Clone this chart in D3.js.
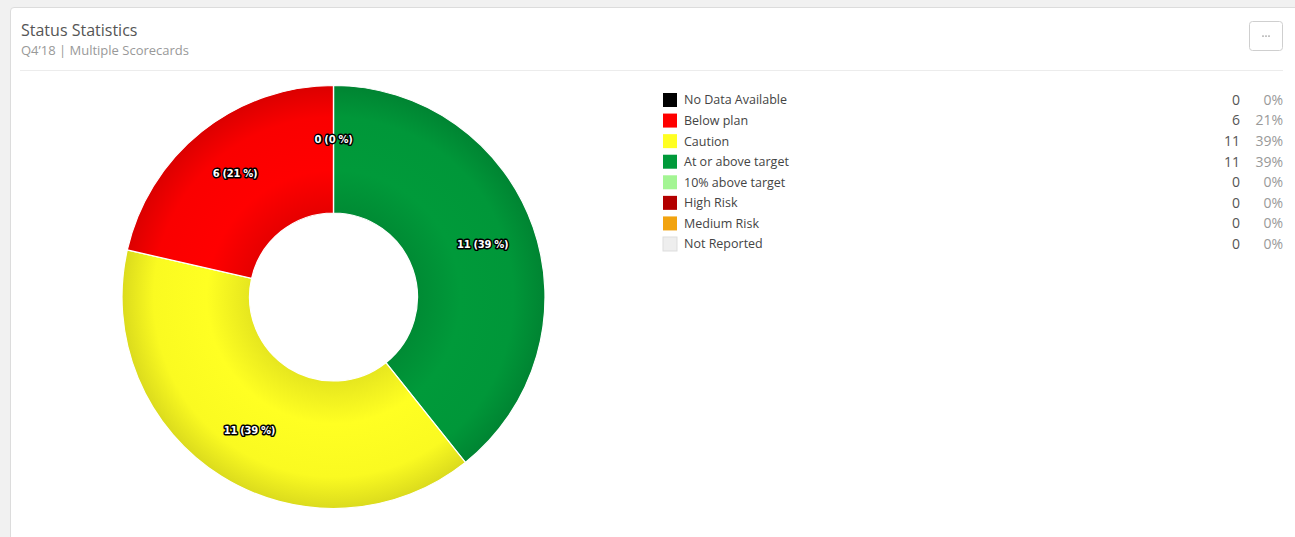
<!DOCTYPE html>
<html>
<head>
<meta charset="utf-8">
<script src="https://cdn.jsdelivr.net/npm/d3@7.9.0/dist/d3.min.js"></script>
<style>
  html, body { margin: 0; padding: 0; background: #f1f1f1; }
  body { width: 1295px; height: 537px; overflow: hidden; position: relative; font-family: 'Open Sans', sans-serif; }
  .panel {
    position: absolute; left: 10px; top: 7px; width: 1300px; height: 560px;
    background: #fff; border: 1px solid #dcdcdc; border-radius: 4px;
  }
  svg { position: absolute; left: 0; top: 0; }
</style>
</head>
<body>
<div class="panel"></div>
<svg id="chart" width="1295" height="537"></svg>
<script>
const statuses = ['No Data Available', 'Below plan', 'Caution', 'At or above target',
                  '10% above target', 'High Risk', 'Medium Risk', 'Not Reported'];
const counts   = [0, 6, 11, 11, 0, 0, 0, 0];
const percents = ['0%', '21%', '39%', '39%', '0%', '0%', '0%', '0%'];
const colors   = ['#000000', '#ff0000', '#ffff22', '#009a3a', '#a3f593', '#b30000', '#f2a30f', '#eeeeee'];
// order in which the slices run clockwise from 12 o'clock
const pieOrder = ['At or above target', 'Caution', 'Below plan', 'No Data Available'];

const svg = d3.select('#chart');

// header
svg.append('text').attr('x', 21).attr('y', 36)
  .style('font-size', '16px').style('fill', '#555').text('Status Statistics');
svg.append('text').attr('x', 21).attr('y', 55)
  .style('font-size', '13px').style('fill', '#999').text('Q4\u201918 | Multiple Scorecards');
svg.append('line').attr('x1', 20).attr('x2', 1283).attr('y1', 70.5).attr('y2', 70.5)
  .attr('stroke', '#ececec');

const btn = svg.append('g').attr('transform', 'translate(1249,21)');
btn.append('rect').attr('x', 0.5).attr('y', 0.5).attr('width', 33).attr('height', 29)
  .attr('rx', 3).attr('fill', '#fff').attr('stroke', '#cfcfcf');
btn.selectAll('rect.dot').data([-3, 0, 3]).join('rect').attr('class', 'dot')
  .attr('x', d => 16 + d).attr('y', 14.5).attr('width', 2).attr('height', 1.2).attr('fill', '#aaa');

// donut
const cx = 333.5, cy = 297, outerR = 211.5, innerR = 84;
const colorOf = d3.scaleOrdinal().domain(statuses).range(colors);
const countOf = new Map(statuses.map((s, i) => [s, counts[i]]));
const pctOf = new Map(statuses.map((s, i) => [s, percents[i]]));
const total = d3.sum(counts);

// gradients live in the donut group's own space, so centre them at 0,0
const defs = svg.append('defs');
statuses.forEach((s, i) => {
  const shade = t => d3.interpolateRgb(colors[i], '#000')(t);
  const g = defs.append('radialGradient').attr('id', 'g' + i)
    .attr('gradientUnits', 'userSpaceOnUse')
    .attr('cx', 0).attr('cy', 0).attr('r', outerR);
  g.append('stop').attr('offset', innerR / outerR).attr('stop-color', shade(0.1));
  g.append('stop').attr('offset', 0.6).attr('stop-color', shade(0));
  g.append('stop').attr('offset', 0.85).attr('stop-color', shade(0.02));
  g.append('stop').attr('offset', 1).attr('stop-color', shade(0.14));
});

const pie = d3.pie().sort(null).value(d => countOf.get(d));
const arcs = pie(pieOrder);
const arc = d3.arc().innerRadius(innerR).outerRadius(outerR);
const labelArc = d3.arc().innerRadius(158).outerRadius(158);

const donut = svg.append('g').attr('transform', `translate(${cx},${cy})`);
donut.selectAll('path').data(arcs).join('path')
  .attr('d', arc)
  .attr('fill', d => `url(#g${statuses.indexOf(d.data)})`)
  .attr('stroke', '#fff').attr('stroke-width', 1.2);

donut.selectAll('text').data(arcs).join('text')
  .attr('transform', d => `translate(${labelArc.centroid(d)})`)
  .attr('text-anchor', 'middle').attr('dy', '0.35em')
  .style('font-family', 'Verdana, "DejaVu Sans", sans-serif')
  .style('font-size', '10px').style('font-weight', 'bold').style('letter-spacing', '-0.3px')
  .style('fill', '#fff').style('stroke', '#000').style('stroke-width', 3)
  .style('paint-order', 'stroke').style('stroke-linejoin', 'round')
  .text(d => `${countOf.get(d.data)} (${Math.round(countOf.get(d.data) / total * 100)} %)`);

// legend
const y = d3.scalePoint().domain(statuses).range([100, 244]);
const legend = svg.append('g');
const rows = legend.selectAll('g').data(statuses).join('g')
  .attr('transform', d => `translate(0,${y(d)})`);
rows.append('rect').attr('x', 663).attr('y', -7).attr('width', 14).attr('height', 14)
  .attr('fill', d => colorOf(d))
  .attr('stroke', d => d === 'Not Reported' ? '#ddd' : 'none');
rows.append('text').attr('x', 684).attr('dy', '0.35em')
  .style('font-size', '12.5px').style('fill', '#444').text(d => d);
rows.append('text').attr('x', 1240).attr('dy', '0.35em').attr('text-anchor', 'end')
  .style('font-size', '14px').style('fill', '#555').text(d => countOf.get(d));
rows.append('text').attr('x', 1283).attr('dy', '0.35em').attr('text-anchor', 'end')
  .style('font-size', '14px').style('fill', '#999').text(d => pctOf.get(d));
</script>
</body>
</html>
